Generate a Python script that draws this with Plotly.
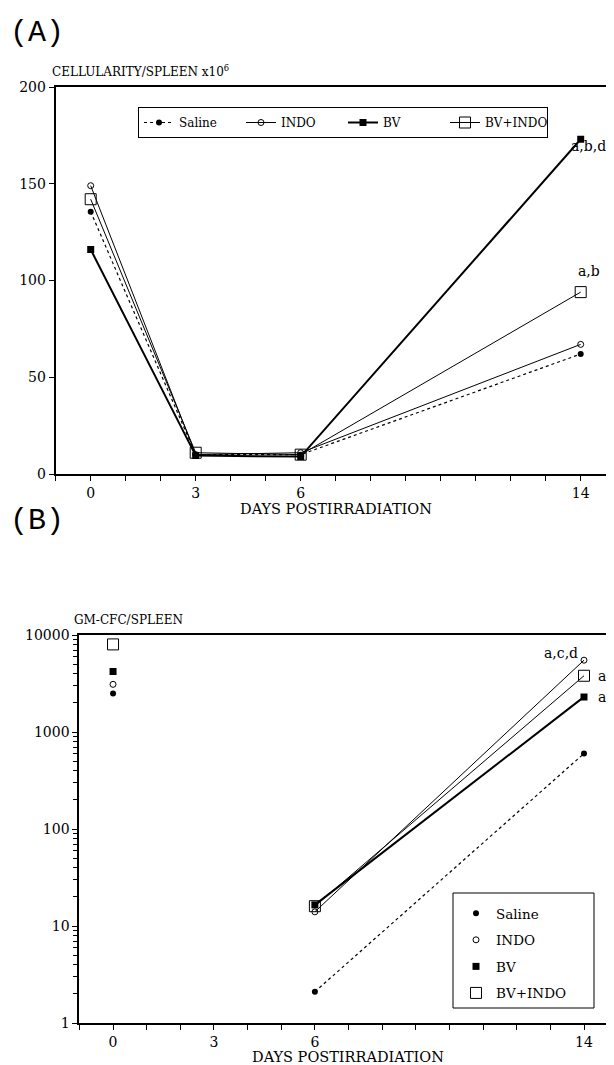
import math
import plotly.graph_objects as go

# ---------------- data ----------------
days = [0, 3, 6, 14]

series_names = ["Saline", "INDO", "BV", "BV+INDO"]

cell_saline = [135.5, 10, 10, 62]
cell_indo = [149, 10, 11, 67]
cell_bv = [116, 9.5, 9, 173]
cell_bvindo = [142, 11, 10, 94]

gm_saline = [2500, None, 2.1, 600]
gm_indo = [3100, None, 14, 5500]
gm_bv = [4200, None, 16.5, 2300]
gm_bvindo = [8000, None, 16, 3800]

x_labeled_days = [0, 3, 6, 14]
x_all_days = list(range(-1, 16))
cell_ticks = [0, 50, 100, 150, 200]
gm_ticks = [1, 10, 100, 1000, 10000]

ann_top = [("BV", "a,b,d"), ("BV+INDO", "a,b")]
ann_bot = [("INDO", "a,c,d"), ("BV+INDO", "a"), ("BV", "a")]

# ---------------- styles ----------------
FONT = "DejaVu Serif"
OFF = 8                      # page body margin
PW, PH = 614, 1065           # page size
W, H = PW - OFF, PH - OFF    # figure size

# plot areas in page pixels
TOP_L, TOP_R, TOP_T, TOP_B = 55.7, 613, 87, 474
BOT_L, BOT_R, BOT_T, BOT_B = 79.4, 614, 635, 1023
TOP_PX_PER_DAY = 35.0
BOT_PX_PER_DAY = 33.64

styles = {
    "Saline": dict(line=dict(color="black", width=1.2, dash="3px,3px"),
                   marker=dict(symbol="circle", size=6, color="black")),
    "INDO": dict(line=dict(color="black", width=1),
                 marker=dict(symbol="circle-open", size=6, color="black",
                             line=dict(width=1, color="black"))),
    "BV": dict(line=dict(color="black", width=2),
               marker=dict(symbol="square", size=7, color="black")),
    "BV+INDO": dict(line=dict(color="black", width=1),
                    marker=dict(symbol="square-open", size=11, color="black",
                                line=dict(width=1, color="black"))),
}
bot_marker_size = {"Saline": 6, "INDO": 6, "BV": 7, "BV+INDO": 11}

cell_data = dict(zip(series_names, [cell_saline, cell_indo, cell_bv, cell_bvindo]))
gm_data = dict(zip(series_names, [gm_saline, gm_indo, gm_bv, gm_bvindo]))

fig = go.Figure()

for name in series_names:
    st = styles[name]
    fig.add_trace(go.Scatter(
        x=days, y=cell_data[name], mode="lines+markers", name=name,
        line=st["line"], marker=st["marker"], xaxis="x", yaxis="y",
        legend="legend", showlegend=True))

for name in series_names:
    st = styles[name]
    fig.add_trace(go.Scatter(
        x=days, y=gm_data[name], mode="lines", line=st["line"],
        connectgaps=False, xaxis="x2", yaxis="y2", showlegend=False,
        hoverinfo="skip"))
for name in series_names:
    st = styles[name]
    mk = dict(st["marker"])
    mk["size"] = bot_marker_size[name]
    fig.add_trace(go.Scatter(
        x=days, y=gm_data[name], mode="markers", name=name, marker=mk,
        xaxis="x2", yaxis="y2", legend="legend2", legendgroup=name,
        showlegend=True))

# ---------------- layout ----------------
def fy(p):
    return 1 - (p - OFF) / H

def fx(p):
    return (p - OFF) / W

tickfont = dict(family=FONT, size=14, color="black")

def xaxis_common(left, right, ppd, anchor):
    return dict(
        domain=[fx(left), min(1.0, fx(right))],
        range=[-1, -1 + (right - left) / ppd],
        tickmode="array", tickvals=x_labeled_days,
        ticktext=[str(d) for d in x_labeled_days],
        ticks="outside", ticklen=5, tickwidth=1, tickcolor="black",
        minor=dict(tickmode="array", tickvals=x_all_days, ticks="outside",
                   ticklen=5, tickwidth=1, tickcolor="black", showgrid=False),
        showline=True, linecolor="black", linewidth=2, mirror=True,
        showgrid=False, zeroline=False, automargin=False, tickfont=tickfont,
        anchor=anchor,
    )

minor_vals = [dec * k for dec in [1, 10, 100, 1000] for k in range(2, 10)]

fig.update_layout(
    width=W, height=H,
    margin=dict(l=0, r=0, t=0, b=0, autoexpand=False),
    paper_bgcolor="white", plot_bgcolor="white",
    xaxis=xaxis_common(TOP_L, TOP_R, TOP_PX_PER_DAY, "y"),
    xaxis2=xaxis_common(BOT_L, BOT_R, BOT_PX_PER_DAY, "y2"),
    yaxis=dict(domain=[fy(TOP_B), fy(TOP_T)], range=[0, 200], tickmode="array",
               tickvals=cell_ticks,
               ticks="outside", ticklen=5, tickcolor="black",
               showline=True, linecolor="black", linewidth=2, mirror=True,
               showgrid=False, zeroline=False, automargin=False,
               tickfont=tickfont, anchor="x"),
    yaxis2=dict(domain=[fy(BOT_B), fy(BOT_T)], type="log", range=[0, 4], tickmode="array",
                tickvals=gm_ticks, ticktext=[str(v) for v in gm_ticks],
                ticks="outside", ticklen=5, tickcolor="black",
                minor=dict(tickmode="array", tickvals=minor_vals, ticks="outside",
                           ticklen=4, tickcolor="black", showgrid=False),
                showline=True, linecolor="black", linewidth=2, mirror=True,
                showgrid=False, zeroline=False, automargin=False,
                tickfont=tickfont, anchor="x2"),
    legend=dict(orientation="h", x=fx(138), y=fy(107),
                xanchor="left", yanchor="top",
                bordercolor="black", borderwidth=1, bgcolor="white",
                entrywidth=57, entrywidthmode="pixels",
                font=dict(family=FONT, size=12, color="black")),
    legend2=dict(orientation="v", x=fx(456), y=fy(898),
                 xanchor="left", yanchor="top",
                 borderwidth=0, bgcolor="rgba(0,0,0,0)",
                 tracegroupgap=6,
                 font=dict(family=FONT, size=13.5, color="black")),
    showlegend=True,
    shapes=[dict(type="rect", xref="paper", yref="paper",
                 x0=fx(453), x1=fx(594), y0=fy(1008), y1=fy(893),
                 line=dict(color="black", width=1), fillcolor="rgba(0,0,0,0)",
                 layer="above")],
)

anns = []
for txt, yy in [("(A)", 33), ("(B)", 521)]:
    anns.append(dict(text=txt, xref="paper", yref="paper", x=fx(8), y=fy(yy),
                     xanchor="left", yanchor="middle", showarrow=False,
                     font=dict(family="Liberation Mono", size=30, color="black")))
anns.append(dict(text="CELLULARITY/SPLEEN x10<sup>6</sup>", xref="paper", yref="paper",
                 x=fx(50), y=fy(71), xanchor="left", yanchor="middle", showarrow=False,
                 font=dict(family=FONT, size=12, color="black")))
anns.append(dict(text="GM-CFC/SPLEEN", xref="paper", yref="paper",
                 x=fx(72), y=fy(620), xanchor="left", yanchor="middle", showarrow=False,
                 font=dict(family=FONT, size=12, color="black")))
for xx, yy in [(336, 509), (348, 1057)]:
    anns.append(dict(text="DAYS POSTIRRADIATION", xref="paper", yref="paper",
                     x=fx(xx), y=fy(yy), xanchor="center", yanchor="middle",
                     showarrow=False, font=dict(family=FONT, size=14.5, color="black")))

top_shift = {"a,b,d": (8, -7), "a,b": (8, 21)}
for name, txt in ann_top:
    xs, ys = top_shift[txt]
    anns.append(dict(text=txt, x=days[-1], y=cell_data[name][-1], xref="x", yref="y",
                     xanchor="center", yanchor="middle", xshift=xs, yshift=ys,
                     showarrow=False, font=dict(family=FONT, size=14, color="black")))
bot_shift = {"INDO": (-4, 7, "right"), "BV+INDO": (12, 0, "left"), "BV": (12, 0, "left")}
for name, txt in ann_bot:
    xs, ys, xa = bot_shift[name]
    anns.append(dict(text=txt, x=days[-1], y=math.log10(gm_data[name][-1]),
                     xref="x2", yref="y2", xanchor=xa, yanchor="middle", xshift=xs, yshift=ys,
                     showarrow=False, font=dict(family=FONT, size=14, color="black")))

fig.update_layout(annotations=anns)

fig.write_html("out.html")
